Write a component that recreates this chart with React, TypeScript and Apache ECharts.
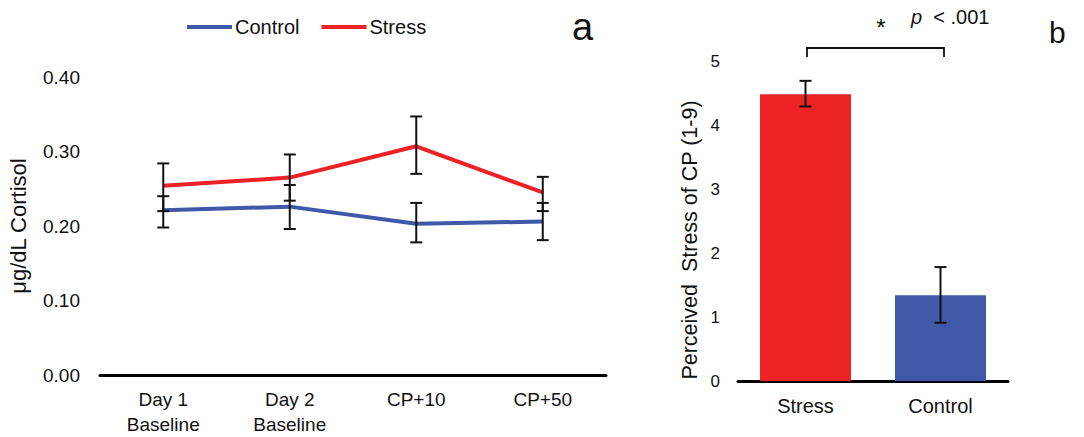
import React, { useEffect, useRef } from "react";
import * as echarts from "echarts";

const timepoints = ["Day 1\nBaseline", "Day 2\nBaseline", "CP+10", "CP+50"];
const stressMean = [0.254, 0.265, 0.307, 0.245];
const stressLow = [0.22, 0.234, 0.27, 0.22];
const stressHigh = [0.284, 0.296, 0.347, 0.266];
const controlMean = [0.221, 0.226, 0.203, 0.206];
const controlLow = [0.198, 0.196, 0.178, 0.181];
const controlHigh = [0.24, 0.255, 0.231, 0.231];
const cortisolTicks = [0, 0.1, 0.2, 0.3, 0.4];

const groups = ["Stress", "Control"];
const perceived = [4.48, 1.34];
const perceivedLow = [4.29, 0.91];
const perceivedHigh = [4.69, 1.78];

const RED = "#ED2227";
const BLUE = "#3F58A8";
const FONT = "'Liberation Sans', Arial, Helvetica, sans-serif";

function errorRender(capHalf: number) {
  return (params: any, api: any) => {
    const x = api.value(0);
    const lo = api.coord([x, api.value(1)]);
    const hi = api.coord([x, api.value(2)]);
    const style = { stroke: "#111", lineWidth: 2 };
    return {
      type: "group",
      children: [
        { type: "line", shape: { x1: lo[0], y1: lo[1], x2: hi[0], y2: hi[1] }, style },
        { type: "line", shape: { x1: lo[0] - capHalf, y1: lo[1], x2: lo[0] + capHalf, y2: lo[1] }, style },
        { type: "line", shape: { x1: hi[0] - capHalf, y1: hi[1], x2: hi[0] + capHalf, y2: hi[1] }, style },
      ],
    };
  };
}

export default function App() {
  const ref = useRef<HTMLDivElement>(null);
  useEffect(() => {
    if (!ref.current) return;
    const chart = echarts.init(ref.current, null, { renderer: "svg" });
    const option: any = {
      animation: false,
      backgroundColor: "#fff",
      textStyle: { fontFamily: FONT, color: "#111" },
      legend: {
        data: ["Control", "Stress"],
        left: 187,
        top: 17,
        padding: 0,
        icon: "rect",
        itemWidth: 45,
        itemHeight: 4,
        itemGap: 22,
        textStyle: { fontSize: 20, color: "#111", fontFamily: FONT, padding: [0, 0, 0, -2] },
      },
      grid: [
        { left: 100, top: 77, width: 506, height: 298 },
        { left: 738, top: 61, width: 270, height: 320 },
      ],
      xAxis: [
        {
          type: "category",
          gridIndex: 0,
          data: timepoints,
          axisLine: { lineStyle: { color: "#000", width: 3 } },
          axisTick: { show: false },
          axisLabel: { fontSize: 19, color: "#111", lineHeight: 25, margin: 12, fontFamily: FONT },
        },
        {
          type: "category",
          gridIndex: 1,
          data: groups,
          axisLine: { lineStyle: { color: "#000", width: 3 } },
          axisTick: { show: false },
          axisLabel: { fontSize: 20, color: "#111", margin: 15, fontFamily: FONT },
        },
      ],
      yAxis: [
        {
          type: "value",
          gridIndex: 0,
          min: cortisolTicks[0],
          max: cortisolTicks[cortisolTicks.length - 1],
          interval: 0.1,
          axisLine: { show: false },
          axisTick: { show: false },
          splitLine: { show: false },
          axisLabel: {
            fontSize: 19,
            color: "#111",
            margin: 20,
            fontFamily: FONT,
            formatter: (v: number) => v.toFixed(2),
          },
          name: "μg/dL Cortisol",
          nameLocation: "middle",
          nameGap: 71,
          nameTextStyle: { fontSize: 22, color: "#111", fontFamily: FONT },
        },
        {
          type: "value",
          gridIndex: 1,
          min: 0,
          max: 5,
          interval: 1,
          axisLine: { show: false },
          axisTick: { show: false },
          splitLine: { show: false },
          axisLabel: { fontSize: 17, color: "#111", margin: 18, fontFamily: FONT },
        },
      ],
      series: [
        {
          name: "Control",
          type: "line",
          xAxisIndex: 0,
          yAxisIndex: 0,
          data: controlMean,
          symbol: "none",
          color: BLUE,
          lineStyle: { width: 4, color: BLUE },
          z: 2,
        },
        {
          name: "Stress",
          type: "line",
          xAxisIndex: 0,
          yAxisIndex: 0,
          data: stressMean,
          symbol: "none",
          color: RED,
          lineStyle: { width: 4, color: RED },
          z: 2,
        },
        {
          name: "Control SE",
          type: "custom",
          xAxisIndex: 0,
          yAxisIndex: 0,
          renderItem: errorRender(6),
          data: controlMean.map((_, i) => [i, controlLow[i], controlHigh[i]]),
          z: 5,
        },
        {
          name: "Stress SE",
          type: "custom",
          xAxisIndex: 0,
          yAxisIndex: 0,
          renderItem: errorRender(6),
          data: stressMean.map((_, i) => [i, stressLow[i], stressHigh[i]]),
          z: 5,
        },
        {
          name: "Perceived Stress",
          type: "bar",
          xAxisIndex: 1,
          yAxisIndex: 1,
          barWidth: 91,
          data: perceived.map((v, i) => ({ value: v, itemStyle: { color: i === 0 ? "#EE2326" : BLUE } })),
          z: 2,
        },
        {
          name: "Perceived SE",
          type: "custom",
          xAxisIndex: 1,
          yAxisIndex: 1,
          renderItem: errorRender(6),
          data: perceived.map((_, i) => [i, perceivedLow[i], perceivedHigh[i]]),
          z: 5,
        },
      ],
      graphic: [
        {
          type: "text",
          left: 572,
          top: 8,
          style: { text: "a", fontSize: 38, fill: "#111", fontFamily: FONT },
        },
        {
          type: "text",
          left: 1049,
          top: 17,
          style: { text: "b", fontSize: 30, fill: "#111", fontFamily: FONT },
        },
        {
          type: "text",
          x: 690,
          y: 240,
          rotation: Math.PI / 2,
          style: {
            text: "Perceived  Stress of CP (1-9)",
            fontSize: 21.5,
            fill: "#111",
            fontFamily: FONT,
            align: "center",
            verticalAlign: "middle",
          },
        },
        {
          type: "polyline",
          shape: { points: [[807, 57], [807, 48], [944, 48], [944, 57]] },
          style: { stroke: "#111", lineWidth: 1.8, fill: "none" },
        },
        {
          type: "text",
          x: 881,
          y: 27,
          style: { text: "*", fontSize: 24, fill: "#111", fontFamily: FONT, align: "center", verticalAlign: "middle" },
        },
        {
          type: "text",
          x: 911,
          y: 17,
          style: {
            text: "{i|p}  < .001",
            fontSize: 20,
            fill: "#111",
            fontFamily: FONT,
            verticalAlign: "middle",
            rich: { i: { fontStyle: "italic", fontSize: 20, fontFamily: FONT, fill: "#111" } },
          },
        },
      ],
    };
    chart.setOption(option);
    return () => chart.dispose();
  }, []);
  return (
    <div
      ref={ref}
      style={{ position: "absolute", left: 0, top: 0, width: 1084, height: 437, background: "#fff" }}
    />
  );
}
